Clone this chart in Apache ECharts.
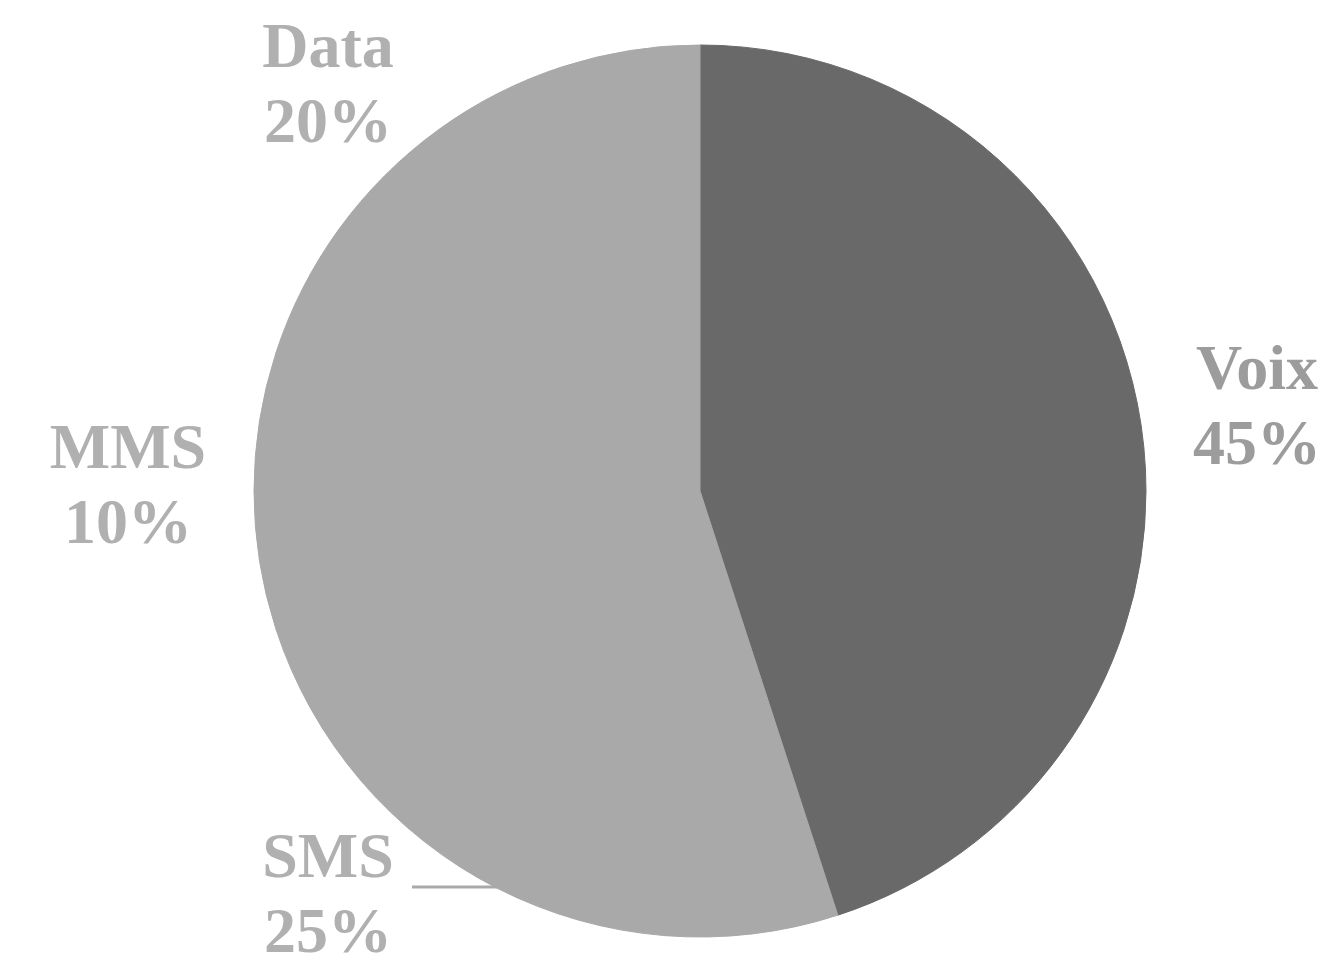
<!DOCTYPE html>
<html>
<head>
<meta charset="utf-8">
<style>
  html, body { margin: 0; padding: 0; background: #ffffff; }
  #chart { width: 1330px; height: 960px; }
</style>
<script src="https://cdn.jsdelivr.net/npm/echarts@6/dist/echarts.min.js"></script>
</head>
<body>
<div id="chart"></div>
<script>
// Traffic split by service, clockwise from 12 o'clock
const categories = ['Voix', 'SMS', 'MMS', 'Data'];
const shares = [45, 25, 10, 20];

const sliceColors = ['#696969', '#a9a9a9', '#a9a9a9', '#a9a9a9'];
const labelColors = ['#9c9c9c', '#b0b0b0', '#b0b0b0', '#b0b0b0'];

// Label block centres (px); only SMS gets a leader line
const labelAnchors = {
  Voix: [1257, 410],
  SMS:  [328, 898],
  MMS:  [128, 489],
  Data: [328, 88]
};

const CX = 700, CY = 491, R = 446;

const chart = echarts.init(document.getElementById('chart'), null, { renderer: 'canvas' });

chart.setOption({
  animation: false,
  backgroundColor: '#ffffff',
  series: [{
    type: 'pie',
    center: [CX, CY],
    radius: [0, R],
    startAngle: 90,
    clockwise: true,
    data: categories.map((name, i) => ({
      name,
      value: shares[i],
      // border in the fill colour hides the seams between same-coloured slices
      itemStyle: { color: sliceColors[i], borderColor: sliceColors[i], borderWidth: 1 },
      label: { color: labelColors[i] },
      labelLine: {
        show: name === 'SMS',
        lineStyle: { color: '#a9a9a9', width: 3 }
      }
    })),
    label: {
      show: true,
      position: 'outside',
      formatter: p => p.name + '\n' + p.value + '%',
      fontFamily: '"Liberation Serif", "DejaVu Serif", serif',
      fontWeight: 'bold',
      fontSize: 64,
      lineHeight: 75,
      align: 'center',
      verticalAlign: 'middle'
    },
    labelLayout: function (params) {
      const name = categories[params.dataIndex];
      const a = labelAnchors[name];
      const out = { x: a[0], y: a[1], align: 'center', verticalAlign: 'middle' };
      if (name === 'SMS') {
        const ly = a[1] - 11;
        const edgeX = CX - Math.sqrt(R * R - (ly - CY) * (ly - CY));
        out.labelLinePoints = [[a[0] + 84, ly], [edgeX + 6, ly], [edgeX + 6, ly]];
      }
      return out;
    },
    emphasis: { disabled: true }
  }]
});
</script>
</body>
</html>
